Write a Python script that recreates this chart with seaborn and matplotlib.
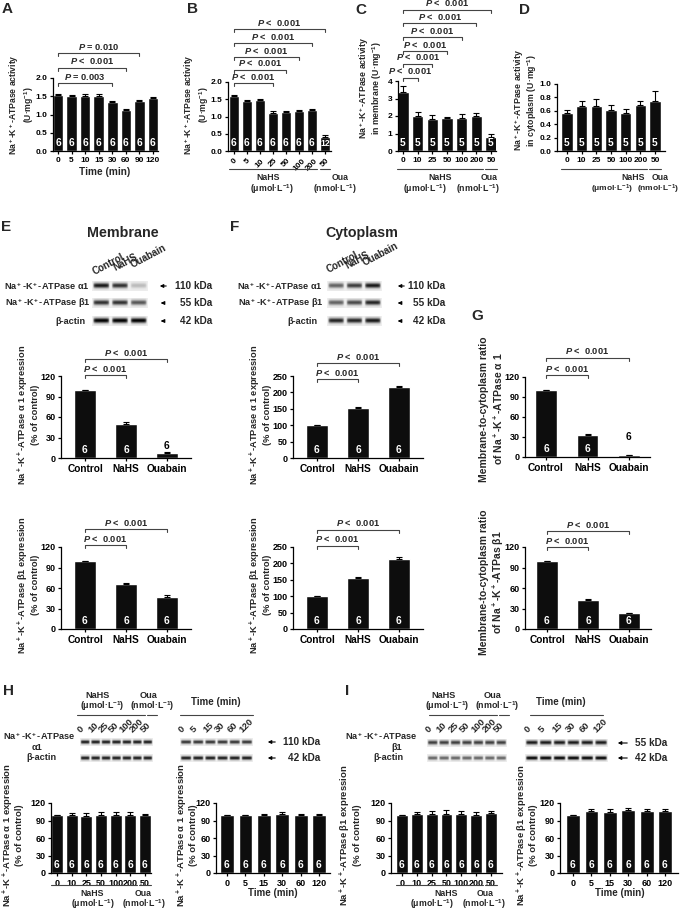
import numpy as np
import pandas as pd
import seaborn as sns
import matplotlib
matplotlib.use("Agg")
import matplotlib.pyplot as plt
import matplotlib.transforms as mtransforms
from matplotlib.patches import FancyArrowPatch

# ---------------- data ----------------
a_cats = ["0", "5", "10", "15", "30", "60", "90", "120"]
a_vals = [1.53, 1.50, 1.51, 1.52, 1.34, 1.12, 1.37, 1.44]
a_errs = [0.03, 0.03, 0.05, 0.04, 0.03, 0.04, 0.04, 0.04]
a_n = [6, 6, 6, 6, 6, 6, 6, 6]

b_cats = ["0", "5", "10", "25", "50", "100", "200", "50"]
b_vals = [1.59, 1.46, 1.47, 1.11, 1.13, 1.16, 1.18, 0.42]
b_errs = [0.04, 0.03, 0.04, 0.05, 0.04, 0.04, 0.04, 0.03]
b_n = [6, 6, 6, 6, 6, 6, 6, 12]

cd_cats = ["0", "10", "25", "50", "100", "200", "50"]
c_vals = [3.35, 2.00, 1.85, 1.88, 1.90, 1.98, 0.78]
c_errs = [0.35, 0.22, 0.18, 0.08, 0.20, 0.20, 0.22]
c_n = [5, 5, 5, 5, 5, 5, 5]
d_vals = [0.56, 0.67, 0.67, 0.61, 0.57, 0.68, 0.75]
d_errs = [0.05, 0.07, 0.11, 0.08, 0.06, 0.07, 0.15]
d_n = [5, 5, 5, 5, 5, 5, 5]

grp = ["Control", "NaHS", "Ouabain"]
grp_n = [6, 6, 6]
e_a1 = [100, 50, 8]
e_a1_err = [0, 3, 1]
e_b1 = [100, 66, 47]
e_b1_err = [0, 1, 3]
f_a1 = [100, 152, 215]
f_a1_err = [0, 3, 5]
f_b1 = [100, 157, 212]
f_b1_err = [0, 3, 6]
g_a1 = [100, 33, 3]
g_a1_err = [0, 1.5, 0.5]
g_b1 = [100, 43, 23]
g_b1_err = [0, 1, 1]

hi_conc = ["0", "10", "25", "50", "100", "200", "50"]
hi_time = ["0", "5", "15", "30", "60", "120"]
hi_n7 = [6, 6, 6, 6, 6, 6, 6]
hi_n6 = [6, 6, 6, 6, 6, 6]
h_conc = [100, 99, 98, 99, 100, 99, 100]
h_conc_err = [0, 4, 5, 5, 4, 5, 2]
h_time = [100, 99, 100, 101, 99, 99]
h_time_err = [0, 1, 2, 3, 3, 2]
i_conc = [100, 101, 102, 102, 102, 100, 103]
i_conc_err = [0, 3, 5, 6, 5, 5, 3]
i_time = [100, 106, 105, 108, 107, 107]
i_time_err = [0, 4, 4, 4, 3, 3]

# western-blot band darkness (0..1)
e_blot = {"a1": [0.85, 0.75, 0.2], "b1": [0.75, 0.75, 0.6], "actin": [0.95, 0.95, 0.95]}
f_blot = {"a1": [0.55, 0.7, 0.85], "b1": [0.55, 0.65, 0.8], "actin": [0.8, 0.8, 0.85]}
h_blot = {"a1_c": [0.85] * 7, "act_c": [0.85] * 7, "a1_t": [0.75] * 6, "act_t": [0.85] * 6}
i_blot = {"b1_c": [0.7] * 7, "act_c": [0.55] * 7, "b1_t": [0.85] * 6, "act_t": [0.95] * 6}

# ---------------- style ----------------
W, H = 680, 911
sns.set_style("ticks")
plt.rcParams.update({
    "font.family": ["Liberation Sans", "DejaVu Sans"],
    "font.weight": "bold",
    "axes.labelweight": "bold",
    "mathtext.fontset": "custom",
    "mathtext.rm": "Liberation Sans:bold",
    "mathtext.it": "Liberation Sans:italic:bold",
    "mathtext.bf": "Liberation Sans:bold",
    "mathtext.sf": "Liberation Sans:bold",
    "axes.linewidth": 0.9,
    "axes.edgecolor": "black",
    "xtick.major.width": 0.9, "ytick.major.width": 0.9,
    "xtick.major.size": 2.5, "ytick.major.size": 2.5,
    "xtick.major.pad": 2, "ytick.major.pad": 1.5,
    "xtick.labelsize": 6, "ytick.labelsize": 6,
    "xtick.color": "black", "ytick.color": "black",
    "xtick.direction": "out", "ytick.direction": "out",
})

fig = plt.figure(figsize=(W / 100, H / 100), dpi=100)
PX = mtransforms.Affine2D().scale(1 / W, -1 / H).translate(0, 1) + fig.transFigure


def ftext(x, y, s, **kw):
    kw.setdefault("ha", "center")
    kw.setdefault("va", "center")
    return fig.text(x, y, s, transform=PX, **kw)


def letter(x, y, s):
    ftext(x, y, s, fontsize=11)


def ylab(x1, x2, yc, l1, l2, fs=6.5):
    ftext(x1, yc, l1, rotation=90, fontsize=fs)
    ftext(x2, yc, l2, rotation=90, fontsize=fs)


def bar_chart(x0, c0, c1, ytop, ybot, cats, vals, errs, ns, ymax, yticks, yfmt,
              width=0.78, rot=0, brackets=(), n_above=None, nfs=7.3, xfs=6, yfs=6):
    n = len(vals)
    d = (c1 - c0) / (n - 1)
    g = (c0 - x0) / d
    x1 = c1 + (c0 - x0)
    ax = fig.add_axes([x0 / W, 1 - ybot / H, (x1 - x0) / W, (ybot - ytop) / H])
    df = pd.DataFrame({"pos": np.arange(n), "val": vals})
    sns.barplot(data=df, x="pos", y="val", color="#0d0d0d", saturation=1,
                width=width, errorbar=None, ax=ax, zorder=2)
    ax.errorbar(np.arange(n), vals, yerr=[np.zeros(n), errs], fmt="none",
                ecolor="black", elinewidth=0.8, capsize=2, capthick=0.8, zorder=3)
    ax.set_xlim(-g, n - 1 + g)
    ax.set_ylim(0, ymax)
    ax.set_yticks(yticks)
    ax.set_yticklabels([yfmt.format(t) for t in yticks], fontsize=yfs)
    ax.set_xticks(np.arange(n))
    ax.set_xticklabels(cats, rotation=rot, fontsize=xfs)
    ax.set_xlabel("")
    ax.set_ylabel("")
    sns.despine(ax=ax)
    T = mtransforms.blended_transform_factory(ax.transData, PX)
    ph = ybot - ytop
    for i, (v, k) in enumerate(zip(vals, ns)):
        hpx = v / ymax * ph
        top = ybot - hpx
        ly = ybot - 8
        if hpx >= 12:
            ax.text(i, ly, str(k), color="white", ha="center", va="center",
                    fontsize=nfs if k < 10 else nfs - 1, transform=T, zorder=4)
        else:
            yy = (n_above or {}).get(i, top - 7)
            ax.text(i, yy, str(k), color="black", ha="center", va="center",
                    fontsize=nfs, transform=T, zorder=4)
    for (i, j, yb, txt) in brackets:
        ax.plot([i, i, j, j], [yb + 3, yb, yb, yb + 3], transform=T,
                color="#444444", lw=0.8, clip_on=False)
        ax.text((i + j) / 2, yb - 1.5, txt, transform=T, ha="center",
                va="bottom", fontsize=6.7)
    return ax, T


def group_under(T, yl, spans):
    for a, b in spans:
        plt.plot([a, b], [yl, yl], transform=T, color="#444444", lw=0.8, clip_on=False)


def blot(x0, x1, yc, h, intens, bandh=0.22, bg=0.07):
    ax = fig.add_axes([x0 / W, 1 - (yc + h / 2) / H, (x1 - x0) / W, h / H])
    n = len(intens)
    nx, ny = n * 30, 30
    xs = (np.arange(nx) + 0.5) / 30
    ys = (np.arange(ny) + 0.5) / ny
    lane = np.floor(xs).astype(int)
    fx = xs - lane
    px = np.clip(1 - ((fx - 0.5) / 0.44) ** 8, 0, 1)
    py = np.exp(-((ys - 0.5) / bandh) ** 2)
    img = bg + np.array(intens)[lane][None, :] * px[None, :] * py[:, None]
    ax.imshow(np.clip(img, 0, 1), cmap="gray_r", vmin=0, vmax=1, aspect="auto",
              extent=(0, n, 0, 1), interpolation="bilinear")
    ax.axis("off")
    return ax


def arrow(xh, xt, y, label, xr, fs=7.2):
    fig.add_artist(FancyArrowPatch((xt, y), (xh, y), transform=PX, arrowstyle="-|>",
                                   mutation_scale=5, lw=0.8, color="black"))
    ftext(xr, y, label, ha="right", fontsize=fs)


NAK = r"Na$^+$-K$^+$-ATPase"
PL = r"$P$ <  0.001"
UM = r"(μmol·L$^{-1}$)"
NM = r"(nmol·L$^{-1}$)"
GFS = 6.3   # group labels under axes
RFS = 6.6   # blot row labels

# ---------------- A ----------------
letter(7, 9, "A")
bar_chart(53, 58, 153, 78, 151, a_cats, a_vals, a_errs, a_n, 2.0,
          [0, 0.5, 1.0, 1.5, 2.0], "{:.1f}",
          brackets=[(0, 4, 83, r"$P$ = 0.003"), (0, 5, 68, PL), (0, 6, 53, r"$P$ = 0.010")])
ftext(105, 172, "Time (min)", fontsize=7.3)
ylab(14, 29, 105, NAK + " activity", r"(U·mg$^{-1}$)", fs=6.2)

# ---------------- B ----------------
letter(192, 9, "B")
axB, TB = bar_chart(228, 234, 325, 82, 151, b_cats, b_vals, b_errs, b_n, 2.0,
                    [0, 0.5, 1.0, 1.5, 2.0], "{:.1f}", rot=45,
                    brackets=[(0, 3, 83, PL), (0, 4, 70, PL), (0, 5, 57, PL),
                              (0, 6, 43, PL), (0, 7, 29, PL)])
group_under(TB, 169, [(-0.4, 6.4), (6.65, 7.4)])
ftext(268, 177, "NaHS", fontsize=GFS)
ftext(340, 177, "Oua", fontsize=GFS)
ftext(272, 189, UM, fontsize=GFS)
ftext(335, 189, NM, fontsize=GFS)
ylab(189, 204, 105, NAK + " activity", r"(U·mg$^{-1}$)", fs=6.2)

# ---------------- C ----------------
letter(361, 10, "C")
axC, TC = bar_chart(398, 403, 491, 81, 151, cd_cats, c_vals, c_errs, c_n, 4,
                    [0, 1, 2, 3, 4], "{:d}",
                    brackets=[(0, 1, 78, PL), (0, 2, 64, PL), (0, 3, 51, PL),
                              (0, 4, 37, PL), (0, 5, 23, PL), (0, 6, 10, PL)])
group_under(TC, 169, [(-0.4, 5.45), (5.6, 6.4)])
ftext(440, 177, "NaHS", fontsize=GFS)
ftext(489, 177, "Oua", fontsize=GFS)
ftext(425, 189, UM, fontsize=GFS)
ftext(478, 189, NM, fontsize=GFS)
ylab(364, 377, 88, NAK + " activity", r"in membrane (U·mg$^{-1}$)", fs=6.3)

# ---------------- D ----------------
letter(524, 10, "D")
axD, TD = bar_chart(557, 567, 655, 84, 151, cd_cats, d_vals, d_errs, d_n, 1.0,
                    [0, 0.2, 0.4, 0.6, 0.8, 1.0], "{:.1f}")
group_under(TD, 169, [(-0.4, 5.45), (5.6, 6.4)])
ftext(633, 177, "NaHS", fontsize=GFS)
ftext(660, 177, "Oua", fontsize=GFS)
ftext(612, 189, UM, fontsize=6.0)
ftext(658, 189, NM, fontsize=6.0)
ylab(519, 532, 100, NAK + " activity", r"in cytoplasm (U·mg$^{-1}$)", fs=6.3)

# ---------------- E ----------------
letter(6, 227, "E")
ftext(123, 233, "Membrane", fontsize=10.3)
for lab, (lx, ly) in zip(grp, [(96, 277), (116, 273), (134, 270)]):
    ftext(lx, ly, lab, ha="left", va="bottom", rotation=28, rotation_mode="anchor", fontsize=7.0)
blot(92, 148, 286, 11, e_blot["a1"])
blot(92, 148, 303, 11, e_blot["b1"])
blot(92, 148, 321, 11, e_blot["actin"])
ftext(90, 286, NAK + " α1", ha="right", fontsize=RFS)
ftext(90, 303, NAK + " β1", ha="right", fontsize=RFS)
ftext(85, 321, "β-actin", ha="right", fontsize=RFS)
arrow(157, 169, 286, "110 kDa", 212)
arrow(158, 166, 303, "55 kDa", 212)
arrow(158, 166, 321, "42 kDa", 212)

bar_chart(61, 85, 167, 376, 458, grp, e_a1, e_a1_err, grp_n, 120,
          [0, 30, 60, 90, 120], "{:d}", width=0.52, xfs=7.3, yfs=6.5,
          brackets=[(0, 1, 375, PL), (0, 2, 359, PL)])
ylab(23, 35, 415, NAK + " α 1 expression", "(% of control)", fs=6.7)
bar_chart(61, 85, 167, 547, 629, grp, e_b1, e_b1_err, grp_n, 120,
          [0, 30, 60, 90, 120], "{:d}", width=0.52, xfs=7.3, yfs=6.5,
          brackets=[(0, 1, 545, PL), (0, 2, 529, PL)])
ylab(23, 35, 585, NAK + " β1 expression", "(% of control)", fs=6.7)

# ---------------- F ----------------
letter(235, 227, "F")
ftext(362, 233, "Cytoplasm", fontsize=10.3)
for lab, (lx, ly) in zip(grp, [(330, 275), (348, 271), (366, 268)]):
    ftext(lx, ly, lab, ha="left", va="bottom", rotation=28, rotation_mode="anchor", fontsize=7.0)
blot(327, 382, 286, 11, f_blot["a1"])
blot(327, 382, 303, 11, f_blot["b1"])
blot(327, 382, 321, 11, f_blot["actin"])
ftext(323, 286, NAK + " α1", ha="right", fontsize=RFS)
ftext(323, 303, NAK + " β1", ha="right", fontsize=RFS)
ftext(318, 321, "β-actin", ha="right", fontsize=RFS)
arrow(395, 407, 286, "110 kDa", 445)
arrow(395, 403, 303, "55 kDa", 445)
arrow(395, 403, 321, "42 kDa", 445)

bar_chart(293, 317, 399, 376, 458, grp, f_a1, f_a1_err, grp_n, 250,
          [0, 50, 100, 150, 200, 250], "{:d}", width=0.52, xfs=7.3, yfs=6.5,
          brackets=[(0, 1, 379, PL), (0, 2, 363, PL)])
ylab(255, 267, 415, NAK + " α 1 expression", "(% of control)", fs=6.7)
bar_chart(293, 317, 399, 547, 629, grp, f_b1, f_b1_err, grp_n, 250,
          [0, 50, 100, 150, 200, 250], "{:d}", width=0.52, xfs=7.3, yfs=6.5,
          brackets=[(0, 1, 546, PL), (0, 2, 530, PL)])
ylab(255, 267, 585, NAK + " β1 expression", "(% of control)", fs=6.7)

# ---------------- G ----------------
letter(477, 316, "G")
bar_chart(525, 546, 629, 377, 457, grp, g_a1, g_a1_err, grp_n, 120,
          [0, 30, 60, 90, 120], "{:d}", width=0.52, xfs=7.3, yfs=6.5,
          brackets=[(0, 1, 375, PL), (0, 2, 358, PL)], n_above={2: 437})
ylab(484, 498, 409, "Membrane-to-cytoplasm ratio", "of " + NAK + " α 1", fs=7.5)
bar_chart(525, 547, 629, 547, 629, grp, g_b1, g_b1_err, grp_n, 120,
          [0, 30, 60, 90, 120], "{:d}", width=0.52, xfs=7.3, yfs=6.5,
          brackets=[(0, 1, 547, PL), (0, 2, 531, PL)])
ylab(484, 498, 582, "Membrane-to-cytoplasm ratio", "of " + r"Na$^+$-K$^+$-ATPas β1", fs=7.5)


# ---------------- H / I ----------------
def header(dx, lx0, lx1, lx2, lx3, ly):
    ftext(98 + dx, 695, "NaHS", fontsize=6.6)
    ftext(102 + dx, 706, UM, fontsize=6.4)
    ftext(148 + dx, 695, "Oua", fontsize=6.6)
    ftext(152 + dx, 706, NM, fontsize=6.4)
    ftext(216 + dx, 702, "Time (min)", fontsize=7.0)
    for a, b in [(lx0, lx1), (lx1 + 2, lx1 + 12), (lx2, lx3)]:
        fig.add_artist(plt.Line2D([a, b], [ly, ly], transform=PX, color="#444444", lw=0.8))


def lanes(x0, x1, labels, y):
    n = len(labels)
    for i, lab in enumerate(labels):
        cx = x0 + (i + 0.5) * (x1 - x0) / n
        ftext(cx - 3, y, lab, ha="left", va="bottom", rotation=45, rotation_mode="anchor", fontsize=6.8)


letter(8, 691, "H")
header(0, 77, 145, 180, 253, 715)
lanes(80, 153, hi_conc, 734)
lanes(180, 253, hi_time, 734)
blot(80, 153, 742, 8, h_blot["a1_c"])
blot(80, 153, 758, 8, h_blot["act_c"])
blot(180, 253, 742, 8, h_blot["a1_t"])
blot(180, 253, 758, 8, h_blot["act_t"])
ftext(39, 736, NAK, fontsize=RFS)
ftext(37, 747, "α1", fontsize=RFS)
ftext(41, 758, "β-actin", fontsize=RFS)
arrow(265, 278, 742, "110 kDa", 320)
arrow(265, 278, 758, "42 kDa", 320)

axH1, TH1 = bar_chart(51, 57, 145, 803, 873, hi_conc, h_conc, h_conc_err, hi_n7, 120,
                      [0, 30, 60, 90, 120], "{:d}", width=0.8, xfs=6.5, yfs=6.5)
group_under(TH1, 885, [(-0.4, 5.45), (5.6, 6.4)])
ftext(92, 893, "NaHS", fontsize=GFS)
ftext(143, 893, "Oua", fontsize=GFS)
ftext(93, 904, UM, fontsize=GFS)
ftext(144, 904, NM, fontsize=GFS)
ylab(8, 19, 835, NAK + " α 1 expression", "(% of control)", fs=6.8)
bar_chart(216, 227, 319, 803, 873, hi_time, h_time, h_time_err, hi_n6, 120,
          [0, 30, 60, 90, 120], "{:d}", width=0.75, xfs=6.5, yfs=6.5)
ftext(273, 893, "Time (min)", fontsize=7)
ylab(182, 193, 835, NAK + " α 1 expression", "(% of control)", fs=6.8)

letter(347, 691, "I")
header(345, 429, 497, 530, 603, 715)
lanes(427, 507, hi_conc, 734)
lanes(525, 608, hi_time, 734)
blot(427, 507, 743, 8, i_blot["b1_c"])
blot(427, 507, 758, 8, i_blot["act_c"])
blot(525, 608, 743, 8, i_blot["b1_t"])
blot(525, 608, 758, 8, i_blot["act_t"])
ftext(381, 736, NAK, fontsize=RFS)
ftext(397, 747, "β1", fontsize=RFS)
ftext(388, 758, "β-actin", fontsize=RFS)
arrow(615, 630, 743, "55 kDa", 667)
arrow(615, 630, 758, "42 kDa", 667)

axI1, TI1 = bar_chart(391, 402, 491, 803, 873, hi_conc, i_conc, i_conc_err, hi_n7, 120,
                      [0, 30, 60, 90, 120], "{:d}", width=0.8, xfs=6.5, yfs=6.5)
group_under(TI1, 885, [(-0.4, 5.45), (5.6, 6.4)])
ftext(446, 893, "NaHS", fontsize=GFS)
ftext(485, 893, "Oua", fontsize=GFS)
ftext(432, 904, UM, fontsize=GFS)
ftext(484, 904, NM, fontsize=GFS)
ylab(345, 357, 835, NAK + " β1 expression", "(% of control)", fs=6.8)
bar_chart(560, 573, 665, 803, 873, hi_time, i_time, i_time_err, hi_n6, 120,
          [0, 30, 60, 90, 120], "{:d}", width=0.75, xfs=6.5, yfs=6.5)
ftext(620, 893, "Time (min)", fontsize=7)
ylab(522, 533, 835, NAK + " β1 expression", "(% of control)", fs=6.8)

fig.savefig("out.png", dpi=100)
